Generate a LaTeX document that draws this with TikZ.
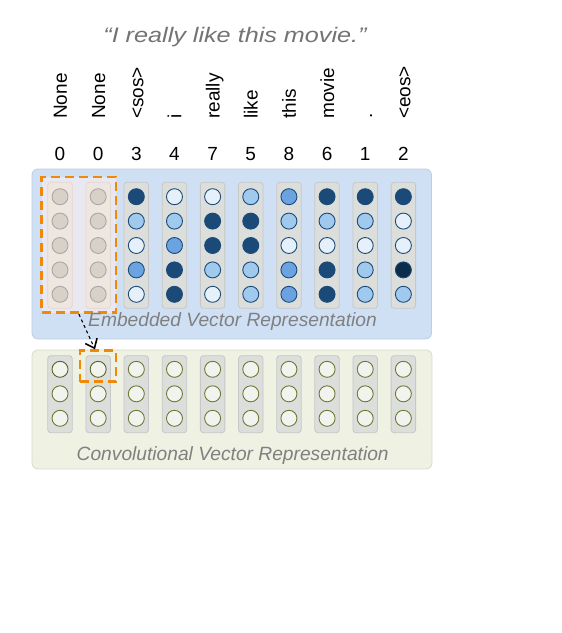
\documentclass[tikz,border=0pt]{standalone}
\usepackage{fontspec}
\setmainfont{Liberation Sans}
\usetikzlibrary{matrix,arrows.meta}

\definecolor{navy}{RGB}{27,74,120}
\definecolor{deepnavy}{RGB}{12,44,76}
\definecolor{midblue}{RGB}{106,163,224}
\definecolor{lightblue}{RGB}{160,201,238}
\definecolor{vlightblue}{RGB}{230,240,250}
\definecolor{nonefill}{RGB}{217,208,200}
\definecolor{noneline}{RGB}{168,168,168}
\definecolor{embpanel}{RGB}{207,224,245}
\definecolor{embline}{RGB}{190,205,225}
\definecolor{convpanel}{RGB}{239,241,227}
\definecolor{convline}{RGB}{214,218,204}
\definecolor{colfill}{RGB}{220,222,220}
\definecolor{colline}{RGB}{198,199,198}
\definecolor{beige}{RGB}{240,230,224}
\definecolor{beigeline}{RGB}{226,216,210}
\definecolor{lavender}{RGB}{233,231,240}
\definecolor{olive}{RGB}{107,122,48}
\definecolor{convfill}{RGB}{242,243,239}
\definecolor{winorange}{RGB}{240,136,10}
\definecolor{capgray}{RGB}{128,128,128}

\tikzset{
  cell/.style={circle, draw=navy, line width=0.9pt, minimum size=16pt, inner sep=0pt},
  e0/.style={fill=nonefill, draw=noneline},
  e1/.style={fill=vlightblue},
  e2/.style={fill=lightblue},
  e3/.style={fill=midblue},
  e4/.style={fill=navy},
  e5/.style={fill=deepnavy},
  c0/.style={fill=convfill, draw=olive},
  c1/.style={fill=convfill!85!olive!40, draw=olive!80!black},
  colbox/.style={rectangle, rounded corners=3pt, draw=colline, fill=colfill, line width=0.8pt, minimum width=24.5pt, inner sep=0pt},
  nonebox/.style={fill=beige, draw=beigeline},
  window/.style={rectangle, draw=winorange, line width=2.8pt, dash pattern=on 9pt off 5pt, inner sep=0pt},
  word/.style={xshift=7pt, rotate=90, anchor=base west},
  caption/.style={font=\fontsize{19.2}{23}\selectfont\itshape, text=capgray, anchor=base, inner sep=0pt},
}

\begin{document}
\begin{tikzpicture}[x=1pt, y=-1pt]
    \useasboundingbox (0,0) rectangle (562,633);

    % sentence
    \node[font=\fontsize{21}{25}\selectfont\itshape, text=capgray!110, anchor=base, xscale=1.2] (quote) at (235,42) {“I really like this movie.”};

    % tokens and their indices
    \matrix (tok) [matrix of nodes,
            ampersand replacement=\&,
            nodes={inner sep=0pt, anchor=base, font=\fontsize{19}{22}\selectfont},
            column sep={38.15pt,between origins},
            row sep={41pt,between origins},
            matrix anchor=tok-2-1.base] at (60,160) {
      |[word]| None \& |[word]| None \& |[word]| <sos> \& |[word]| i \& |[word]| really \& |[word]| like \& |[word]| this \& |[word]| movie \& |[word]| . \& |[word]| <eos> \\
      0 \& 0 \& 3 \& 4 \& 7 \& 5 \& 8 \& 6 \& 1 \& 2 \\
    };

    % embedded vectors
    \fill[embpanel, draw=embline, line width=0.8pt, rounded corners=6pt] (32,169) rectangle (431.5,339);
    \node[window, fill=lavender, minimum width=74.3pt, minimum height=135.7pt] (win) at (78.9,244.9) {};
    \matrix (embcols) [matrix of nodes,
            nodes in empty cells,
            ampersand replacement=\&,
            nodes={colbox, minimum height=126pt},
            column sep={38.15pt,between origins}] at (231.7,245.3) {
      |[nonebox]| {} \& |[nonebox]| {} \& {} \& {} \& {} \& {} \& {} \& {} \& {} \& {} \\
    };
    \matrix (emb) [matrix of nodes,
            nodes in empty cells,
            ampersand replacement=\&,
            nodes={cell},
            row sep={24.4pt,between origins},
            column sep={38.15pt,between origins}] at (231.7,245.5) {
      |[e0]| {} \& |[e0]| {} \& |[e4]| {} \& |[e1]| {} \& |[e1]| {} \& |[e2]| {} \& |[e3]| {} \& |[e4]| {} \& |[e4]| {} \& |[e4]| {} \\
      |[e0]| {} \& |[e0]| {} \& |[e2]| {} \& |[e2]| {} \& |[e4]| {} \& |[e4]| {} \& |[e2]| {} \& |[e2]| {} \& |[e2]| {} \& |[e1]| {} \\
      |[e0]| {} \& |[e0]| {} \& |[e1]| {} \& |[e3]| {} \& |[e4]| {} \& |[e4]| {} \& |[e1]| {} \& |[e1]| {} \& |[e1]| {} \& |[e1]| {} \\
      |[e0]| {} \& |[e0]| {} \& |[e3]| {} \& |[e4]| {} \& |[e2]| {} \& |[e2]| {} \& |[e3]| {} \& |[e4]| {} \& |[e2]| {} \& |[e5]| {} \\
      |[e0]| {} \& |[e0]| {} \& |[e1]| {} \& |[e4]| {} \& |[e1]| {} \& |[e2]| {} \& |[e3]| {} \& |[e4]| {} \& |[e2]| {} \& |[e2]| {} \\
    };
    \node[caption] (embcap) at (232.5,326) {Embedded Vector Representation};

    % convolutional vectors
    \fill[convpanel, draw=convline, line width=0.8pt, rounded corners=6pt] (32,350) rectangle (432,469);
    \matrix (convcols) [matrix of nodes,
            nodes in empty cells,
            ampersand replacement=\&,
            nodes={colbox, minimum height=77pt},
            column sep={38.15pt,between origins}] at (231.7,394.2) {
      {} \& {} \& {} \& {} \& {} \& {} \& {} \& {} \& {} \& {} \\
    };
    \matrix (conv) [matrix of nodes,
            nodes in empty cells,
            ampersand replacement=\&,
            nodes={cell, c0},
            row sep={24.5pt,between origins},
            column sep={38.15pt,between origins}] at (231.7,393.8) {
      |[c1]| {} \& |[c1]| {} \& {} \& {} \& {} \& {} \& {} \& {} \& {} \& {} \\
      {} \& {} \& {} \& {} \& {} \& {} \& {} \& {} \& {} \& {} \\
      {} \& {} \& {} \& {} \& {} \& {} \& {} \& {} \& {} \& {} \\
    };
    \node[window, minimum width=36pt, minimum height=31pt] (out) at (98,366.2) {};
    \node[caption] (convcap) at (232.7,460) {Convolutional Vector Representation};

    \draw[dashed, line width=1.1pt, -{Straight Barb[length=8pt, width=13pt, line width=1.6pt]}] (win.south) -- ([xshift=-3pt]out.north);
\end{tikzpicture}
\end{document}
